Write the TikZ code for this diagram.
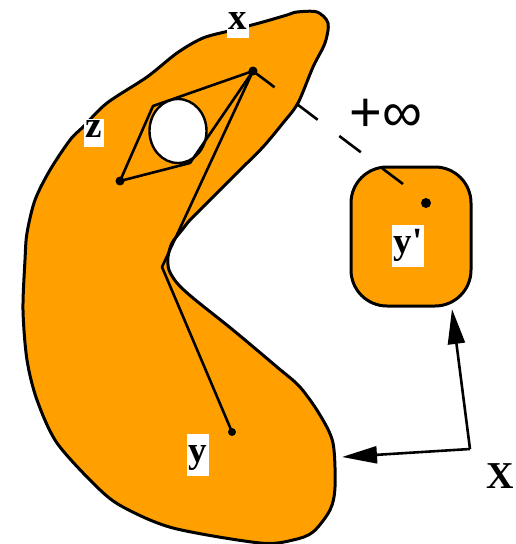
\documentclass[tikz,border=0pt]{standalone}
\usepackage{fontspec}
\setmainfont{Liberation Serif}
\newfontfamily\symfont{Liberation Sans}
\usetikzlibrary{arrows.meta,positioning,calc}
\definecolor{SetOrange}{HTML}{FFA000}
\definecolor{SetInk}{HTML}{000000}

\begin{document}
\begin{tikzpicture}[x=1pt,y=-1pt,
    region/.style={draw=SetInk,fill=SetOrange,line width=3pt,line join=round},
    seg/.style={draw=SetInk,line width=2.6pt,line join=round},
    dot/.style={circle,fill=SetInk,inner sep=0pt,minimum size=9pt},
    lbl/.style={fill=white,inner xsep=1.5pt,inner ysep=1.5pt,font=\fontsize{37}{40}\selectfont\bfseries,text height=16pt,text depth=7.5pt},
    tall/.style={text height=26.5pt,text depth=12.5pt},
    arr/.style={-{Triangle[length=35pt,width=17pt]},line width=2.6pt,SetInk}
  ]
    \useasboundingbox (0,0) rectangle (516,544);
    % the set with its hole
    \draw[region] plot[smooth cycle,tension=0.5] coordinates {
      (297,12) (317,12) (328,23) (325,43) (313,67) (298,103) (283,123)
      (263,147) (240,170) (217,193) (205,205) (190,220) (182,230) (172,243)
      (168,257) (169,270) (177,283) (193,298) (233,330) (277,367) (300,387)
      (320,415) (333,443) (335,487) (330,510) (313,532) (293,540) (260,543)
      (173,528) (123,507) (97,487) (57,443) (37,400) (27,360) (23,310)
      (25,260) (27,233) (35,200) (50,170) (70,140) (83,127) (107,103)
      (147,77) (177,53) (203,38) (233,30) (263,22) (287,15)};
    \draw[seg,fill=white,line width=2.4pt] (178,131) ellipse [x radius=28.5,y radius=32];
    \node[draw=SetInk,fill=SetOrange,line width=3pt,rounded corners=36pt,
      minimum width=120pt,minimum height=139pt] (box) at (411,236.5) {};
    % points
    \node[dot] (px) at (253,71) {};
    \node[dot] (pz) at (120,181) {};
    \node[dot,minimum size=8pt] (py) at (232,432) {};
    \node[dot,minimum size=10pt] (pyy) at (426,203) {};
    \coordinate (dl) at (153,106);
    \coordinate (dr) at (190,163);
    \coordinate (nk) at (162,267);
    \coordinate (inf) at (403,184);
    \draw[seg] (px.center) -- (dl) -- (pz.center) -- (dr) -- cycle;
    \draw[seg] (px.center) -- (nk) -- (py.center);
    \draw[seg,dash pattern=on 27pt off 27pt] (px.center) -- (inf);
    % labels
    \node[lbl,anchor=base] (lx) at (238,29) {x};
    \node[lbl,anchor=base,text height=17pt,text depth=8.5pt] (lz) at (94,137) {z};
    \node[lbl,tall,anchor=base] (ly) at (198,462) {y};
    \node[lbl,tall,anchor=base] (lyy) at (408,253) {y\textquotesingle};
    \node[anchor=base,inner sep=0pt,font=\fontsize{56}{60}\selectfont\symfont] (linf) at (386,131) {+∞};
    \node[anchor=base,inner sep=0pt,font=\fontsize{38}{40}\selectfont\bfseries] (lX) at (500,488) {X};
    % the maps
    \coordinate (cx) at (470,449);
    \coordinate (ta) at (342,457);
    \coordinate (tb) at (452,309);
    \draw[arr] (cx) -- (ta);
    \draw[arr] (cx) -- (tb);
\end{tikzpicture}
\end{document}
